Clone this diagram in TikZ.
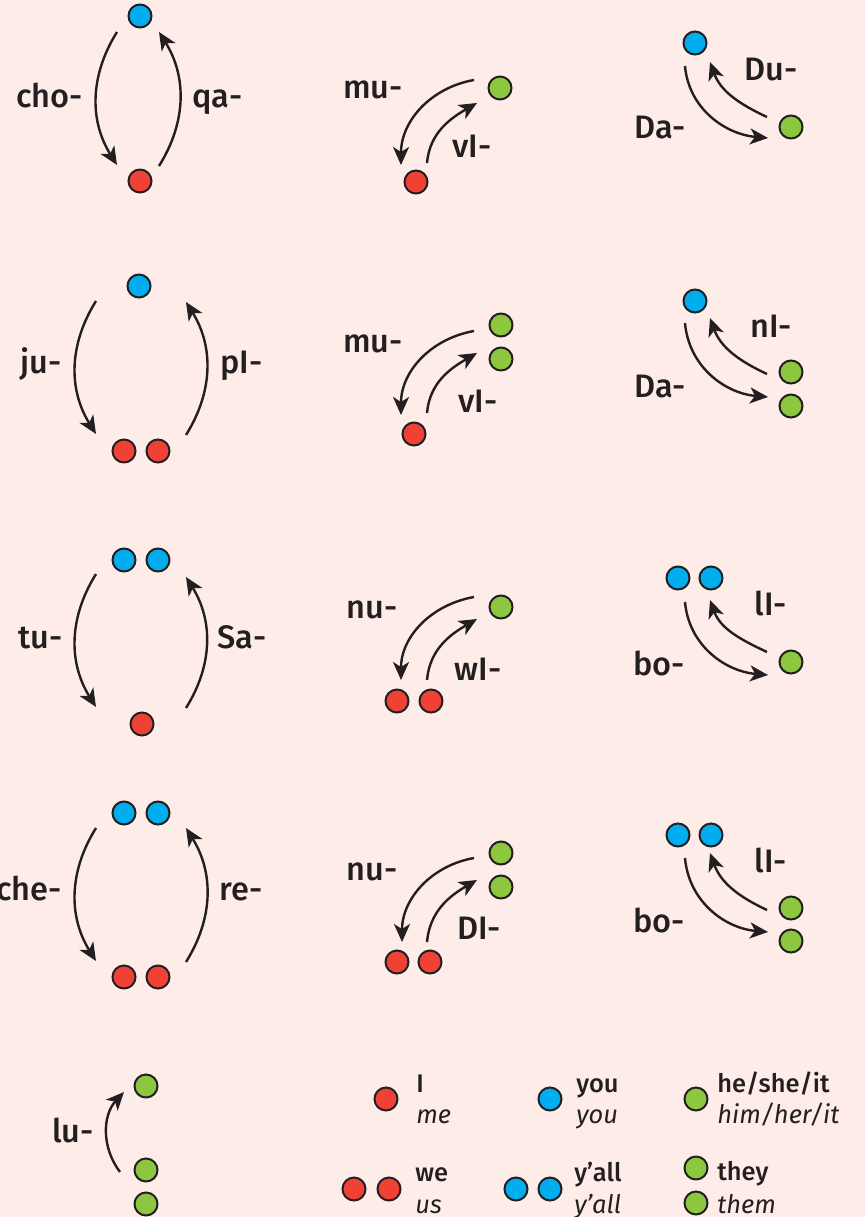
\documentclass[tikz,border=0pt]{standalone}
\usepackage{fontspec}
\setmainfont{Fira Sans}[UprightFont=* Medium, ItalicFont=* Italic]
\usetikzlibrary{arrows.meta}

\definecolor{bgpink}{HTML}{FDECE8}
\definecolor{ink}{HTML}{231F20}
\definecolor{dotblue}{HTML}{00AEEF}
\definecolor{dotred}{HTML}{EF4136}
\definecolor{dotgreen}{HTML}{8DC63F}

\tikzset{
  pdot/.style={circle, draw=ink, line width=0.04cm, minimum size=0.46cm, inner sep=0pt},
  reddot/.style={pdot, fill=dotred},
  bluedot/.style={pdot, fill=dotblue},
  greendot/.style={pdot, fill=dotgreen},
  verbarrow/.style={draw=ink, line width=0.048cm, -{Stealth[length=0.36cm, width=0.32cm, inset=0.1cm]}},
  affix/.style={text=ink, font=\fontsize{18.5}{22}\selectfont, inner sep=0pt, anchor=base},
  gloss/.style={text=ink, font=\fontsize{14.5}{17}\selectfont, inner sep=0pt, anchor=base west},
}

\begin{document}
\begin{tikzpicture}[x=0.02cm, y=0.02cm]
  \fill[bgpink] (0,0) rectangle (865,-1217);
  \useasboundingbox (0,0) rectangle (865,-1217);

  % Column 1: you <-> me
  \node[bluedot] (y11) at (140,-16) {};
  \node[reddot] (m11) at (140,-181) {};
  \draw[verbarrow] ([shift={(-23,-16)}]y11.center) to[bend right=32] ([shift={(-23,16)}]m11.center);
  \draw[verbarrow] ([shift={(19,15)}]m11.center) to[bend right=32] ([shift={(19,-16)}]y11.center);
  \node[affix, anchor=base east] (cho) at (83,-107) {cho-};
  \node[affix, anchor=base west] (qa) at (192,-107) {qa-};

  \node[bluedot] (y12) at (139,-286) {};
  \node[reddot] (m12a) at (124,-451) {};
  \node[reddot] (m12b) at (158,-451) {};
  \draw[verbarrow] ([shift={(-43,-15)}]y12.center) to[bend right=32] ([shift={(-28,17)}]m12a.center);
  \draw[verbarrow] ([shift={(28,16)}]m12b.center) to[bend right=32] ([shift={(47,-16)}]y12.center);
  \node[affix, anchor=base east] (ju) at (62,-373) {ju-};
  \node[affix, anchor=base west] (pI) at (220,-373) {pI-};

  \node[bluedot] (y13a) at (124,-560) {};
  \node[bluedot] (y13b) at (158,-560) {};
  \node[reddot] (m13) at (142,-724) {};
  \draw[verbarrow] ([shift={(-28,-14)}]y13a.center) to[bend right=32] ([shift={(-46,17)}]m13.center);
  \draw[verbarrow] ([shift={(44,16)}]m13.center) to[bend right=32] ([shift={(28,-17)}]y13b.center);
  \node[affix, anchor=base east] (tu) at (63,-648) {tu-};
  \node[affix, anchor=base west] (Sa) at (217,-648) {Sa-};

  \node[bluedot] (y14a) at (124,-813) {};
  \node[bluedot] (y14b) at (158,-813) {};
  \node[reddot] (m14a) at (124,-977) {};
  \node[reddot] (m14b) at (158,-977) {};
  \draw[verbarrow] ([shift={(-28,-15)}]y14a.center) to[bend right=32] ([shift={(-28,16)}]m14a.center);
  \draw[verbarrow] ([shift={(28,15)}]m14b.center) to[bend right=32] ([shift={(28,-15)}]y14b.center);
  \node[affix, anchor=base east] (che) at (62,-900) {che-};
  \node[affix, anchor=base west] (re) at (219,-900) {re-};

  % Column 2: him <-> me
  \node[greendot] (h21) at (500,-88) {};
  \node[reddot] (m21) at (416,-182) {};
  \draw[verbarrow] ([shift={(-26,8)}]h21.center) to[out=190, in=90] ([shift={(-15,17)}]m21.center);
  \draw[verbarrow] ([shift={(11,19)}]m21.center) to[out=85, in=210] ([shift={(-23,-15)}]h21.center);
  \node[affix] (mu1) at (373,-98) {mu-};
  \node[affix] (vI1) at (472,-157) {vI-};

  \node[greendot] (h22a) at (501,-325) {};
  \node[greendot] (h22b) at (501,-359) {};
  \node[reddot] (m22) at (414,-434) {};
  \draw[verbarrow] ([shift={(-27,-6)}]h22a.center) to[out=190, in=90] ([shift={(-13,19)}]m22.center);
  \draw[verbarrow] ([shift={(13,21)}]m22.center) to[out=85, in=210] ([shift={(-24,6)}]h22b.center);
  \node[affix] (mu2) at (373,-352) {mu-};
  \node[affix] (vI2) at (478,-412) {vI-};

  \node[greendot] (h23) at (501,-607) {};
  \node[reddot] (m23a) at (397,-701) {};
  \node[reddot] (m23b) at (431,-701) {};
  \draw[verbarrow] ([shift={(-27,10)}]h23.center) to[out=190, in=90] ([shift={(4,21)}]m23a.center);
  \draw[verbarrow] ([shift={(-4,21)}]m23b.center) to[out=85, in=210] ([shift={(-24,-12)}]h23.center);
  \node[affix] (nu3) at (372,-618) {nu-};
  \node[affix] (wI3) at (478,-680) {wI-};

  \node[greendot] (h24a) at (501,-853) {};
  \node[greendot] (h24b) at (501,-887) {};
  \node[reddot] (m24a) at (397,-962) {};
  \node[reddot] (m24b) at (430,-962) {};
  \draw[verbarrow] ([shift={(-27,-5)}]h24a.center) to[out=190, in=90] ([shift={(5,20)}]m24a.center);
  \draw[verbarrow] ([shift={(-3,20)}]m24b.center) to[out=85, in=210] ([shift={(-24,7)}]h24b.center);
  \node[affix] (nu4) at (372,-880) {nu-};
  \node[affix] (DI4) at (479,-939) {DI-};

  % Column 3: you <-> him
  \node[bluedot] (y31) at (695,-43) {};
  \node[greendot] (h31) at (791,-127) {};
  \draw[verbarrow] ([shift={(-10,-23)}]y31.center) to[out=275, in=175] ([shift={(-23,-11)}]h31.center);
  \draw[verbarrow] ([shift={(-24,10)}]h31.center) to[out=155, in=290] ([shift={(15,-19)}]y31.center);
  \node[affix] (Du1) at (771,-80) {Du-};
  \node[affix] (Da1) at (660,-138) {Da-};

  \node[bluedot] (y32) at (695,-301) {};
  \node[greendot] (h32a) at (791,-372) {};
  \node[greendot] (h32b) at (791,-406) {};
  \draw[verbarrow] ([shift={(-10,-22)}]y32.center) to[out=275, in=175] ([shift={(-23,9)}]h32b.center);
  \draw[verbarrow] ([shift={(-24,-2)}]h32a.center) to[out=155, in=290] ([shift={(15,-17)}]y32.center);
  \node[affix] (nI2) at (771,-337) {nI-};
  \node[affix] (Da2) at (660,-397) {Da-};

  \node[bluedot] (y33a) at (678,-578) {};
  \node[bluedot] (y33b) at (711,-578) {};
  \node[greendot] (h33) at (791,-662) {};
  \draw[verbarrow] ([shift={(7,-24)}]y33a.center) to[out=275, in=175] ([shift={(-23,-13)}]h33.center);
  \draw[verbarrow] ([shift={(-24,10)}]h33.center) to[out=155, in=290] ([shift={(-1,-22)}]y33b.center);
  \node[affix] (lI3) at (771,-615) {lI-};
  \node[affix] (bo3) at (659,-675) {bo-};

  \node[bluedot] (y34a) at (678,-835) {};
  \node[bluedot] (y34b) at (711,-835) {};
  \node[greendot] (h34a) at (791,-908) {};
  \node[greendot] (h34b) at (791,-941) {};
  \draw[verbarrow] ([shift={(7,-23)}]y34a.center) to[out=275, in=175] ([shift={(-23,9)}]h34b.center);
  \draw[verbarrow] ([shift={(-24,-2)}]h34a.center) to[out=155, in=290] ([shift={(-1,-18)}]y34b.center);
  \node[affix] (lI4) at (771,-872) {lI-};
  \node[affix] (bo4) at (659,-932) {bo-};

  % Bottom row: them -> him, and the key
  \node[greendot] (h15a) at (146,-1086) {};
  \node[greendot] (h15b) at (146,-1170) {};
  \node[greendot] (h15c) at (146,-1204) {};
  \draw[verbarrow] ([shift={(-26,-2)}]h15b.center) to[bend left=40] ([shift={(-22,-6)}]h15a.center);
  \node[affix, anchor=base east] (lu) at (94,-1142) {lu-};

  \node[reddot] (kI) at (386,-1099) {};
  \node[gloss] (tI) at (416,-1092) {I};
  \node[gloss] (tme) at (416,-1123) {\itshape me};
  \node[bluedot] (kyou) at (550,-1099) {};
  \node[gloss] (tyou) at (576,-1092) {you};
  \node[gloss] (tyou2) at (576,-1123) {\itshape you};
  \node[greendot] (khe) at (696,-1099) {};
  \node[gloss] (the) at (717,-1092) {he/she/it};
  \node[gloss] (thim) at (717,-1123) {\itshape him/her/it};

  \node[reddot] (kwe1) at (354,-1189) {};
  \node[reddot] (kwe2) at (389,-1189) {};
  \node[gloss] (twe) at (415,-1181) {we};
  \node[gloss] (tus) at (415,-1213) {\itshape us};
  \node[bluedot] (kyall1) at (516,-1189) {};
  \node[bluedot] (kyall2) at (550,-1189) {};
  \node[gloss] (tyall) at (574,-1181) {y’all};
  \node[gloss] (tyall2) at (574,-1213) {\itshape y’all};
  \node[greendot] (kthey1) at (696,-1168) {};
  \node[greendot] (kthey2) at (696,-1203) {};
  \node[gloss] (tthey) at (717,-1180) {they};
  \node[gloss] (tthem) at (717,-1213) {\itshape them};
\end{tikzpicture}
\end{document}
